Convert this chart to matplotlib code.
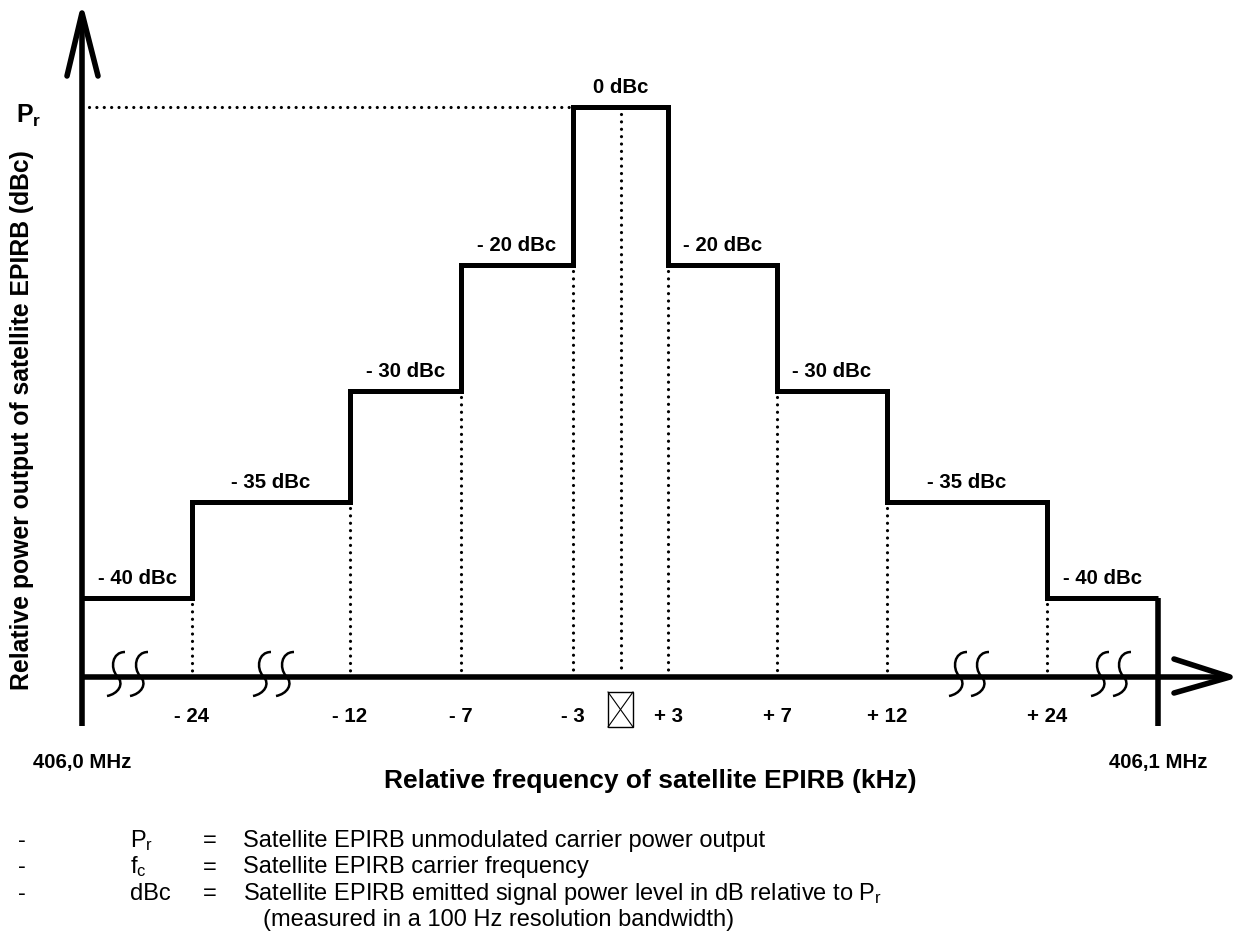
import matplotlib.pyplot as plt
from matplotlib.path import Path
from matplotlib.patches import PathPatch, Rectangle

plt.rcParams['font.family'] = ['Liberation Sans', 'DejaVu Sans']
plt.rcParams['mathtext.fontset'] = 'custom'
plt.rcParams['mathtext.rm'] = 'Liberation Sans'
plt.rcParams['mathtext.it'] = 'Liberation Sans:italic'
plt.rcParams['mathtext.bf'] = 'Liberation Sans:bold'

# mask data (dBc per segment, frequency offsets in kHz at the steps)
levels = [-40, -35, -30, -20, 0, -20, -30, -35, -40]
freq_labels = ['- 24', '- 12', '- 7', '- 3', '+ 3', '+ 7', '+ 12', '+ 24']
level_labels = [('0 dBc' if v == 0 else '- %d dBc' % -v) for v in levels]

# schematic layout (pixels): step edges and height for each level
edges = [82, 192, 350, 461, 573, 668, 777, 887, 1047, 1158]
level_y = {0: 107, -20: 265, -30: 391, -35: 502, -40: 598}
axis_y = 677

fig = plt.figure(figsize=(12.33, 9.44), dpi=100)
ax = fig.add_axes([0, 0, 1, 1])
ax.set_xlim(0, 1233)
ax.set_ylim(944, 0)
ax.axis('off')

lw_ax = 4.0
lw = 3.6
# axes with arrows
ax.plot([82, 82], [14, 726], color='black', lw=lw_ax, solid_capstyle='butt')
ax.plot([67, 82, 98], [76, 13, 76], color='black', lw=lw_ax, solid_capstyle='round', solid_joinstyle='round')
ax.plot([82, 1228], [axis_y, axis_y], color='black', lw=lw_ax, solid_capstyle='butt')
ax.plot([1174, 1230, 1174], [659, 677, 693], color='black', lw=lw_ax, solid_capstyle='round', solid_joinstyle='round')
ax.plot([1158, 1158], [level_y[-40], 726], color='black', lw=lw_ax, solid_capstyle='butt')

# step mask
ys = [level_y[v] for v in levels]
ax.stairs(ys, edges, baseline=None, color='black', lw=lw)

# dotted guides
dot = dict(color='black', lw=2.3, linestyle=(0, (0.01, 2.3)), dash_capstyle='round')
for i in range(1, len(edges) - 1):
    top = max(ys[i - 1], ys[i])
    ax.plot([edges[i], edges[i]], [top + 6, axis_y - 4], **dot)
center = (edges[4] + edges[5]) / 2
ax.plot([center, center], [level_y[0] + 7, axis_y - 4], **dot)
ax.plot([89, edges[4] - 4], [level_y[0], level_y[0]], **dot)

# level labels
for i, lab in enumerate(level_labels):
    xm = (edges[i] + edges[i + 1]) / 2
    ax.text(xm, ys[i] - 14, lab, ha='center', va='baseline', fontsize=14.7, fontweight='bold')

# frequency labels
for i, lab in enumerate(freq_labels):
    ax.text(edges[i + 1], 722, lab, ha='center', va='baseline', fontsize=14.7, fontweight='bold')

# fc box
ax.add_patch(Rectangle((608, 692), 25, 35, fill=False, lw=1, ec='black'))
ax.plot([608, 633], [692, 727], color='black', lw=0.8)
ax.plot([608, 633], [727, 692], color='black', lw=0.8)

# axis break marks
for x0 in [116, 139, 262, 285, 958, 980, 1100, 1122]:
    verts = [(x0 + 9, 652), (x0 - 4, 652), (x0 - 6, 668), (x0 + 1, 676),
             (x0 + 9, 684), (x0 + 2, 694), (x0 - 9, 696)]
    codes = [Path.MOVETO, Path.CURVE4, Path.CURVE4, Path.CURVE4,
             Path.CURVE4, Path.CURVE4, Path.CURVE4]
    ax.add_patch(PathPatch(Path(verts, codes), fill=False, lw=1.8, ec='black'))

ax.text(82, 768, '406,0 MHz', ha='center', va='baseline', fontsize=14.7, fontweight='bold')
ax.text(1158, 768, '406,1 MHz', ha='center', va='baseline', fontsize=14.7, fontweight='bold')
ax.text(650, 788, 'Relative frequency of satellite EPIRB (kHz)', ha='center', va='baseline',
        fontsize=19, fontweight='bold')
ax.text(22, 420, 'Relative power output of satellite EPIRB (dBc)', ha='center', va='center',
        rotation=90, fontsize=17.8, fontweight='bold')
ax.text(16, 123, r'$\mathbf{P_r}$', ha='left', va='baseline', fontsize=18)

# key
key_sym = [r'$\mathrm{P_r}$', r'$\mathrm{f_c}$', 'dBc']
key_txt = ['Satellite EPIRB unmodulated carrier power output',
           'Satellite EPIRB carrier frequency',
           r'Satellite EPIRB emitted signal power level in dB relative to $\mathrm{P_r}$']
for i in range(3):
    y = 847 + 26.5 * i
    ax.text(18, y, '-', ha='left', va='baseline', fontsize=17)
    ax.text(130, y, key_sym[i], ha='left', va='baseline', fontsize=17)
    ax.text(203, y, '=', ha='left', va='baseline', fontsize=17)
    ax.text(243, y, key_txt[i], ha='left', va='baseline', fontsize=17)
ax.text(263, 926, '(measured in a 100 Hz resolution bandwidth)', ha='left', va='baseline', fontsize=17)

fig.savefig('out.png', dpi=100)
